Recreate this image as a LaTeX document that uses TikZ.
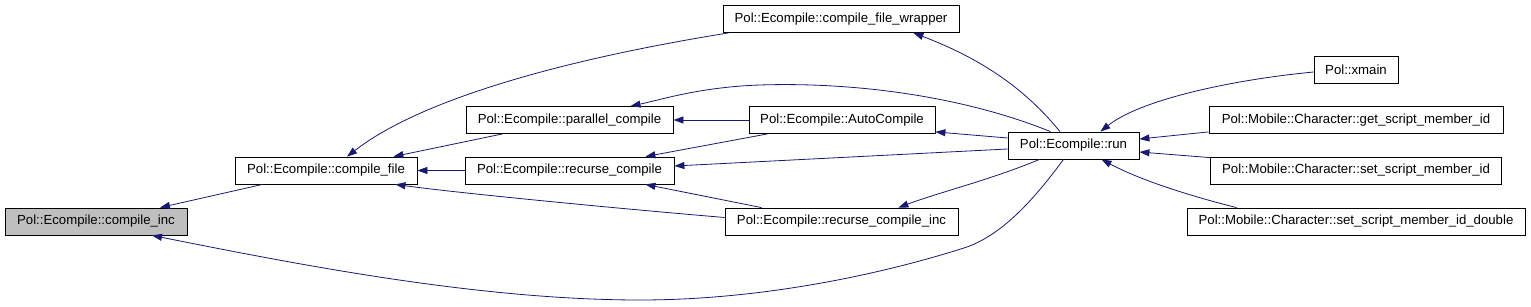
\documentclass[tikz,border=0pt]{standalone}
\usepackage{fontspec}
\setmainfont{Liberation Sans}
\usepackage{xcolor}
\usetikzlibrary{arrows.meta}
\definecolor{edgeblue}{HTML}{191970}
\definecolor{nodegray}{HTML}{BFBFBF}

\begin{document}
\begin{tikzpicture}[x=1pt,y=-1pt,
  box/.style={draw=black,fill=white,line width=0.8pt,minimum height=27pt,
    inner xsep=0pt,inner ysep=0pt,font=\fontsize{13.2}{15}\selectfont},
  arrow/.style={-{Triangle[length=10pt,width=7pt]},line width=0.8pt,draw=edgeblue}]
\useasboundingbox (0,0) rectangle (1531,307);
\node[box,fill=nodegray,minimum width=182pt] (cinc) at (96,221.5) {Pol::Ecompile::compile\_inc};
\node[box,minimum width=182pt] (cfile) at (326,170.5) {Pol::Ecompile::compile\_file};
\node[box,minimum width=236pt] (wrap) at (841,19) {Pol::Ecompile::compile\_file\_wrapper};
\node[box,minimum width=207pt] (par) at (569.5,120) {Pol::Ecompile::parallel\_compile};
\node[box,minimum width=186pt] (autocomp) at (842,120) {Pol::Ecompile::AutoCompile};
\node[box,minimum width=209pt] (rec) at (569.5,170.5) {Pol::Ecompile::recurse\_compile};
\node[box,minimum width=233pt] (recinc) at (841.5,221.5) {Pol::Ecompile::recurse\_compile\_inc};
\node[box,minimum width=131pt] (run) at (1073.5,145.5) {Pol::Ecompile::run};
\node[box,minimum width=84pt] (xmain) at (1356,70) {Pol::xmain};
\node[box,minimum width=294pt] (getid) at (1356,120) {Pol::Mobile::Character::get\_script\_member\_id};
\node[box,minimum width=291pt] (setid) at (1356,170.5) {Pol::Mobile::Character::set\_script\_member\_id};
\node[box,minimum width=338pt] (setdbl) at (1356,221.5) {Pol::Mobile::Character::set\_script\_member\_id\_double};
% callers point back at their callees
\foreach \a/\b in {rec.west/cfile.east,autocomp.west/par.east}
  \draw[arrow] (\a)--(\b);
\draw[arrow] ([xshift=28pt]cfile.south west) -- ([xshift=64pt]cinc.north);
\draw[arrow] ([xshift=-10pt]run.south) .. controls (1030,205) and (1000,235) .. (967,247)
  .. controls (880,275) and (760,300) .. (640,300)
  .. controls (480,300) and (300,265) .. ([xshift=56pt]cinc.south);
\draw[arrow] ([xshift=6pt]wrap.south west) .. controls (560,60) and (420,100) .. ([xshift=21pt]cfile.north);
\draw[arrow] ([xshift=37pt]par.south west) -- ([xshift=-24pt]cfile.north east);
\draw[arrow] ([yshift=4pt]recinc.west) .. controls (600,207) and (450,192) .. ([xshift=-22pt]cfile.south east);
\draw[arrow] ([xshift=-23pt]run.north) .. controls (960,95) and (850,82) .. (760,85)
  .. controls (700,87) and (660,100) .. ([xshift=61pt]par.north);
\draw[arrow] ([xshift=19pt]autocomp.south west) -- ([xshift=-29pt]rec.north east);
\draw[arrow] ([yshift=-3.5pt]run.west) -- ([yshift=4.5pt]rec.east);
\draw[arrow] ([xshift=37pt]recinc.north west) -- ([xshift=-29pt]rec.south east);
\draw[arrow] ([yshift=7.5pt]run.west) -- ([yshift=2pt]autocomp.south east);
\draw[arrow] ([xshift=32pt]run.south west) .. controls (990,180) and (940,192) .. ([xshift=-60pt]recinc.north east);
\draw[arrow] ([xshift=-13.5pt]run.north) .. controls (1030,95) and (990,62) .. ([xshift=-46pt]wrap.south east);
\draw[arrow] ([yshift=-2pt]xmain.west) .. controls (1230,80) and (1140,100) .. ([xshift=-39pt]run.north east);
\draw[arrow] ([yshift=2pt]getid.south west) -- ([yshift=6.5pt]run.east);
\draw[arrow] ([yshift=-1pt]setid.north west) -- ([yshift=-6.5pt]run.east);
\draw[arrow] ([xshift=50pt]setdbl.north west) .. controls (1190,196) and (1140,180) .. ([xshift=28pt]run.south);
\end{tikzpicture}
\end{document}
